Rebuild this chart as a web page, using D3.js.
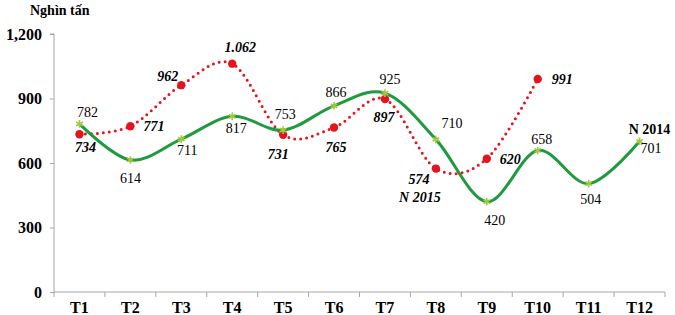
<!DOCTYPE html>
<html>
<head>
<meta charset="utf-8">
<script src="https://cdn.jsdelivr.net/npm/d3@7"></script>
<style>
    body { margin: 0; background: #fff; }
    svg text { font-family: "Liberation Serif", "Times New Roman", serif; }
    .axis path, .axis line { stroke: #a6a6a6; }
    .axis text { font-size: 16px; font-weight: bold; fill: #000; }
</style>
</head>
<body>
<script>
// chart data
var months = ["T1", "T2", "T3", "T4", "T5", "T6", "T7", "T8", "T9", "T10", "T11", "T12"];
var y2014 = [782, 614, 711, 817, 753, 866, 925, 710, 420, 658, 504, 701];
var y2015 = [734, 771, 962, 1062, 731, 765, 897, 574, 620, 991];
var yTicks = [0, 300, 600, 900, 1200];

// label placement (offset from the point: dx, dy, anchor)
var pos2014 = [
    [8, -7, "middle"], [0, 23, "middle"], [6, 16, "middle"], [4, 17, "middle"],
    [2, -11, "middle"], [2, -9, "middle"], [5, -9, "middle"], [16, -11, "middle"],
    [8, 23, "middle"], [4, -7, "middle"], [2, 20, "middle"], [1, 12, "start"]
];
var pos2015 = [
    [6, 18, "middle"], [13, 5, "start"], [-3, -4, "end"], [8, -12, "middle"],
    [-5, 24, "middle"], [2, 24, "middle"], [-1, 23, "middle"], [-17, 15, "middle"],
    [13, 5, "start"], [14, 5, "start"]
];

var w = 675, h = 315;
var svg = d3.select("body").append("svg")
    .attr("width", w)
    .attr("height", h);

var x = d3.scaleBand()
    .domain(months)
    .range([54, 665]);

var y = d3.scaleLinear()
    .domain([0, 1200])
    .range([292, 34]);

function cx(d, i) { return x(months[i]) + x.bandwidth() / 2; }

// unit title
svg.append("text")
    .attr("x", 30)
    .attr("y", 15)
    .style("font-size", "14px")
    .style("font-weight", "bold")
    .text("Nghìn tấn");

// y axis
svg.append("g")
    .attr("class", "axis")
    .attr("transform", "translate(54,0)")
    .call(d3.axisLeft(y).tickValues(yTicks).tickSize(4).tickPadding(8).tickFormat(d3.format(",")))
    .call(function(g){ g.select(".domain").attr("d", "M-4," + y(1200) + "H0V" + y(0)); });

// x axis: line, boundary ticks, labels
var xAxis = svg.append("g").attr("class", "axis");
xAxis.append("path")
    .attr("d", "M54," + y(0) + "H665")
    .attr("fill", "none");
xAxis.selectAll(".xt")
    .data(months.concat(["end"]))
    .enter()
    .append("line")
    .attr("x1", function(d, i){ return i < months.length ? x(d) : x.range()[1]; })
    .attr("x2", function(d, i){ return i < months.length ? x(d) : x.range()[1]; })
    .attr("y1", y(0))
    .attr("y2", y(0) + 5);
xAxis.selectAll(".xl")
    .data(months)
    .enter()
    .append("text")
    .attr("x", function(d){ return x(d) + x.bandwidth() / 2; })
    .attr("y", 313)
    .attr("text-anchor", "middle")
    .style("font-size", "16px")
    .text(function(d){ return d; });

var line = d3.line()
    .x(cx)
    .y(function(d){ return y(d); })
    .curve(d3.curveCardinal.tension(0));

// 2015 series (red dotted)
svg.append("path")
    .datum(y2015)
    .attr("d", line)
    .attr("fill", "none")
    .attr("stroke", "#e3141e")
    .attr("stroke-width", 3)
    .attr("stroke-linecap", "round")
    .attr("stroke-dasharray", "0 6");

// 2014 series (green)
svg.append("path")
    .datum(y2014)
    .attr("d", line)
    .attr("fill", "none")
    .attr("stroke", "#1f9a3e")
    .attr("stroke-width", 3);

svg.selectAll(".m15")
    .data(y2015)
    .enter()
    .append("circle")
    .attr("cx", cx)
    .attr("cy", function(d){ return y(d); })
    .attr("r", 4.2)
    .attr("fill", "#e3141e");

svg.selectAll(".m14")
    .data(y2014)
    .enter()
    .append("path")
    .attr("transform", function(d, i){ return "translate(" + cx(d, i) + "," + y(d) + ")"; })
    .attr("d", d3.symbol().type(d3.symbolAsterisk).size(40))
    .attr("stroke", "#a3c83e")
    .attr("stroke-width", 1.6)
    .attr("fill", "none");

// value labels
var fmt15 = d3.formatLocale({ decimal: ",", thousands: ".", grouping: [3], currency: ["", ""] }).format(",");

svg.selectAll(".l14")
    .data(y2014)
    .enter()
    .append("text")
    .attr("x", function(d, i){ return cx(d, i) + pos2014[i][0]; })
    .attr("y", function(d, i){ return y(d) + pos2014[i][1]; })
    .attr("text-anchor", function(d, i){ return pos2014[i][2]; })
    .style("font-size", "14px")
    .text(function(d){ return d; });

svg.selectAll(".l15")
    .data(y2015)
    .enter()
    .append("text")
    .attr("x", function(d, i){ return cx(d, i) + pos2015[i][0]; })
    .attr("y", function(d, i){ return y(d) + pos2015[i][1]; })
    .attr("text-anchor", function(d, i){ return pos2015[i][2]; })
    .style("font-size", "14px")
    .style("font-weight", "bold")
    .style("font-style", "italic")
    .text(function(d){ return fmt15(d); });

// series names
svg.append("text")
    .attr("x", cx(0, 11) + 10)
    .attr("y", y(y2014[11]) - 7)
    .attr("text-anchor", "middle")
    .style("font-size", "14px")
    .style("font-weight", "bold")
    .text("N 2014");

svg.append("text")
    .attr("x", cx(0, 7) - 16)
    .attr("y", y(y2015[7]) + 33)
    .attr("text-anchor", "middle")
    .style("font-size", "14px")
    .style("font-weight", "bold")
    .style("font-style", "italic")
    .text("N 2015");
</script>
</body>
</html>
